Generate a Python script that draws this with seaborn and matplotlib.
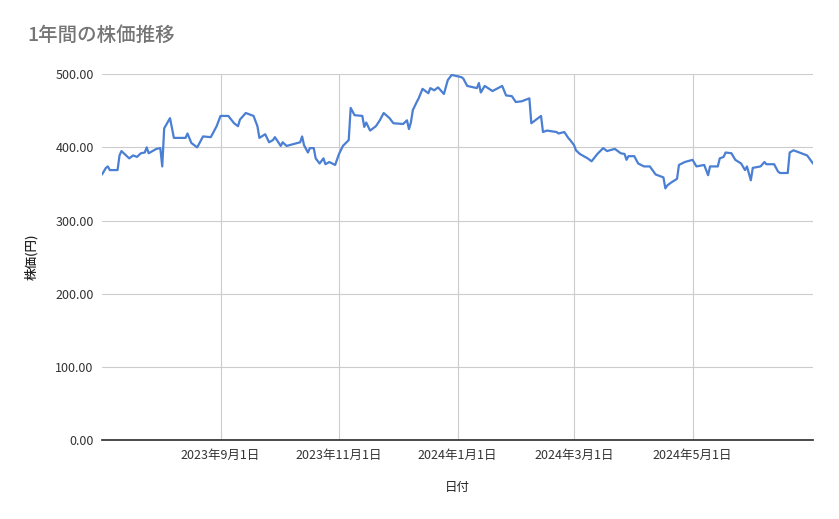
import matplotlib
matplotlib.use("Agg")
import matplotlib.pyplot as plt
import seaborn as sns
import pandas as pd
import numpy as np

start_date = "2023-07-02"
day_offsets = [0,2,3,4,8,9,10,14,16,18,20,22,23,24,28,30,31,32,35,37,43,44,46,49,52,56,59,61,65,68,70,71,74,78,80,81,84,86,88,89,92,93,95,102,103,104,106,107,109,110,112,114,115,117,120,122,124,127,128,130,134,135,136,138,141,143,145,148,150,155,157,158,159,160,162,163,165,168,169,171,173,176,178,180,185,186,188,193,194,195,197,201,206,208,211,213,216,220,221,223,226,227,229,234,235,238,240,241,243,244,246,250,252,255,258,260,264,267,269,270,271,274,276,279,282,285,289,290,291,293,296,297,300,304,306,310,312,313,317,318,320,321,324,326,329,331,332,334,335,339,341,342,346,348,349,353,354,356,363,366]
prices = [363,372,374,369,369,389,395,385,389,387,392,393,400,392,398,399,374,426,440,413,413,419,406,400,415,414,429,443,443,433,429,438,447,443,429,413,418,407,410,414,402,407,402,407,415,403,393,399,399,385,378,385,377,380,376,391,402,410,454,444,443,428,434,423,429,437,447,440,433,432,437,425,434,451,462,467,480,474,481,478,482,473,492,499,496,494,484,481,488,475,484,477,484,471,470,462,463,467,433,437,443,421,423,421,419,421,413,410,403,396,391,385,381,391,399,395,398,392,391,383,388,388,378,374,374,363,359,344,348,352,357,376,380,383,374,376,362,374,374,385,387,393,392,383,378,369,374,355,372,374,380,377,377,367,365,365,393,396,389,378]
tick_dates = ["2023-09-01","2023-11-01","2024-01-01","2024-03-01","2024-05-01"]
tick_labels = ["2023年9月1日","2023年11月1日","2024年1月1日","2024年3月1日","2024年5月1日"]
y_ticks = [0,100,200,300,400,500]

sns.set_theme(style="white")
plt.rcParams['font.family'] = ['Noto Sans CJK JP', 'DejaVu Sans']

df = pd.DataFrame({"日付": pd.Timestamp(start_date) + pd.to_timedelta(day_offsets, unit="D"),
                   "株価(円)": prices})

fig = plt.figure(figsize=(8.39, 5.19), dpi=100)
ax = fig.add_axes([0.1216, 0.152, 0.8474, 0.705])
sns.lineplot(data=df, x="日付", y="株価(円)", ax=ax, color="#4a7fd3", linewidth=1.6)
ax.set_xlim(df["日付"].iloc[0], df["日付"].iloc[-1])
ax.set_ylim(0, 500)
ax.set_yticks(y_ticks)
ax.set_yticklabels([f"{v:.2f}" for v in y_ticks], fontsize=9, color="#333333")
ax.set_xticks(pd.to_datetime(tick_dates))
ax.set_xticklabels(tick_labels, fontsize=9, color="#333333")
ax.grid(True, color="#cccccc", linewidth=0.8)
for s in ["top", "right", "left"]:
    ax.spines[s].set_visible(False)
ax.spines["bottom"].set_color("#333333")
ax.tick_params(length=0, pad=6)
ax.set_xlabel("日付", fontsize=9, color="#222222", labelpad=14)
ax.set_ylabel("株価(円)", fontsize=9, color="#222222", labelpad=12, fontweight="medium")
fig.text(0.033, 0.922, "1年間の株価推移", fontsize=14, color="#757575", fontweight="medium")
fig.savefig("out.png", dpi=100, facecolor="white")
